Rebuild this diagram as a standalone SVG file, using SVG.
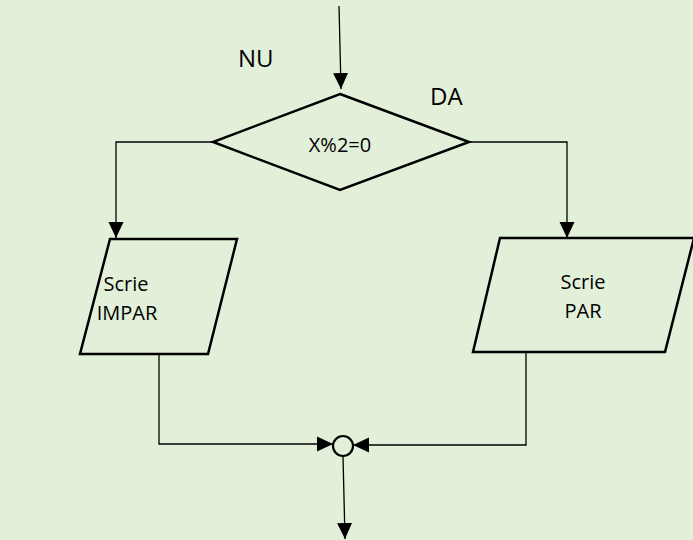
<svg xmlns="http://www.w3.org/2000/svg" width="693" height="540" viewBox="0 0 693 540">
<style>
.shape{fill:#E2EFD9;stroke:#000;stroke-width:2.5;stroke-linejoin:miter}
.conn{fill:none;stroke:#000;stroke-width:1.3}
.t{font-family:"Open Sans","Noto Sans",sans-serif;font-size:20px;fill:#000;text-anchor:middle}
.lbl{font-family:"Open Sans","Noto Sans",sans-serif;font-size:24px;fill:#000}
</style>
<defs>
<marker id="ah" markerUnits="userSpaceOnUse" markerWidth="17" markerHeight="17" viewBox="0 0 17 17" refX="16" refY="8.5" orient="auto">
<path d="M0,1 L16,8.5 L0,16 Z" fill="#000"/>
</marker>
</defs>
<rect width="693" height="540" fill="#E2EFD9"/>
<g id="connectors">
<path class="conn" d="M339,6 L341,89" marker-end="url(#ah)"/>
<path class="conn" d="M213,142 L116,142 L116,238" marker-end="url(#ah)"/>
<path class="conn" d="M469,142 L567,142 L567,238" marker-end="url(#ah)"/>
<path class="conn" d="M159,354 L159,444 L333,444" marker-end="url(#ah)"/>
<path class="conn" d="M526,352 L526,445 L353,445" marker-end="url(#ah)"/>
<path class="conn" d="M343,456 L345,539" marker-end="url(#ah)"/>
</g>
<g id="decision">
<polygon class="shape" points="340,94 469,142 340,190 213,142"/>
<text class="t" x="340" y="152">X%2=0</text>
</g>
<g id="impar">
<polygon class="shape" points="110,239 237,239 208,354 80,354"/>
<text class="t" x="126" y="291">Scrie</text>
<text class="t" x="127" y="320">IMPAR</text>
</g>
<g id="par">
<polygon class="shape" points="500,238 694,238 665,352 473,352"/>
<text class="t" x="583" y="289">Scrie</text>
<text class="t" x="583" y="318">PAR</text>
</g>
<g id="join">
<circle cx="343" cy="446" r="10" fill="#E2EFD9" stroke="#000" stroke-width="2.2"/>
</g>
<g id="labels">
<text class="lbl" x="238" y="67">NU</text>
<text class="lbl" x="430" y="105">DA</text>
</g>
</svg>
